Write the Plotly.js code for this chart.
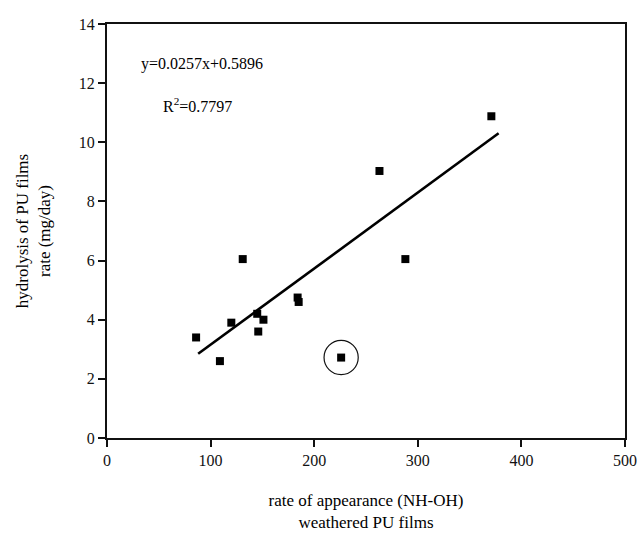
<!DOCTYPE html>
<html>
<head>
<meta charset="utf-8">
<script src="https://cdn.plot.ly/plotly-3.0.1.min.js"></script>
<style>html,body{margin:0;padding:0;background:#fff;}#chart{width:637px;height:537px;}</style>
</head>
<body>
<div id="chart"></div>
<script>
// Data
const rateNHOH = [86, 109, 120, 131, 145, 146, 151, 184, 185, 226, 263, 288, 371];
const hydrolysisRate = [3.4, 2.6, 3.9, 6.05, 4.2, 3.6, 4.0, 4.75, 4.6, 2.72, 9.03, 6.05, 10.88];
const fitSlope = 0.0257;
const fitIntercept = 0.5896;
const fitRange = [88, 378];
const outlierIndex = 9;
const xTicks = [0, 100, 200, 300, 400, 500];
const yTicks = [0, 2, 4, 6, 8, 10, 12, 14];

const fitX = fitRange;
const fitY = fitRange.map(x => fitSlope * x + fitIntercept);

const serif = "Liberation Serif, Times New Roman, serif";

const traces = [
  {
    x: rateNHOH, y: hydrolysisRate, type: 'scatter', mode: 'markers',
    marker: {symbol: 'square', size: 8, color: '#000'},
    showlegend: false, hoverinfo: 'x+y'
  },
  {
    x: fitX, y: fitY, type: 'scatter', mode: 'lines',
    line: {color: '#000', width: 2.6},
    showlegend: false, hoverinfo: 'skip'
  }
];

const ox = rateNHOH[outlierIndex], oy = hydrolysisRate[outlierIndex];
const rx = 16.5, ry = 0.58;

const layout = {
  width: 637, height: 537,
  margin: {l: 107, r: 12, t: 24, b: 99},
  paper_bgcolor: '#fff', plot_bgcolor: '#fff',
  font: {family: serif, color: '#000', size: 14},
  xaxis: {
    range: [0, 500], tickvals: xTicks, ticktext: xTicks.map(String),
    ticks: 'outside', ticklen: 7, tickwidth: 2, tickcolor: '#111',
    showline: true, linecolor: '#111', linewidth: 2, mirror: true,
    showgrid: false, zeroline: false,
    tickfont: {family: serif, size: 16, color: '#111'},
    title: {text: 'rate of appearance (NH-OH)<br>weathered PU films', font: {family: serif, size: 17, color: '#000'}, standoff: 26},
    automargin: false
  },
  yaxis: {
    range: [0, 14], tickvals: yTicks, ticktext: yTicks.map(String),
    ticks: 'outside', ticklen: 7, tickwidth: 2, tickcolor: '#111',
    showline: true, linecolor: '#111', linewidth: 2, mirror: true,
    showgrid: false, zeroline: false,
    tickfont: {family: serif, size: 16, color: '#111'},
    title: {text: 'hydrolysis of PU films<br>rate (mg/day)', font: {family: serif, size: 17, color: '#000'}, standoff: 24},
    automargin: false
  },
  annotations: [
    {xref: 'x', yref: 'y', x: 31, y: 12.65, xanchor: 'left', yanchor: 'middle', showarrow: false,
     text: 'y=0.0257x+0.5896', font: {family: serif, size: 16, color: '#000'}},
    {xref: 'x', yref: 'y', x: 52, y: 11.26, xanchor: 'left', yanchor: 'middle', showarrow: false,
     text: 'R<sup>2</sup>=0.7797', font: {family: serif, size: 16, color: '#000'}}
  ],
  shapes: [
    {type: 'circle', xref: 'x', yref: 'y', x0: ox - rx, x1: ox + rx, y0: oy - ry, y1: oy + ry,
     line: {color: '#111', width: 1.2}}
  ]
};

Plotly.newPlot('chart', traces, layout, {displayModeBar: false, staticPlot: true});
</script>
</body>
</html>
